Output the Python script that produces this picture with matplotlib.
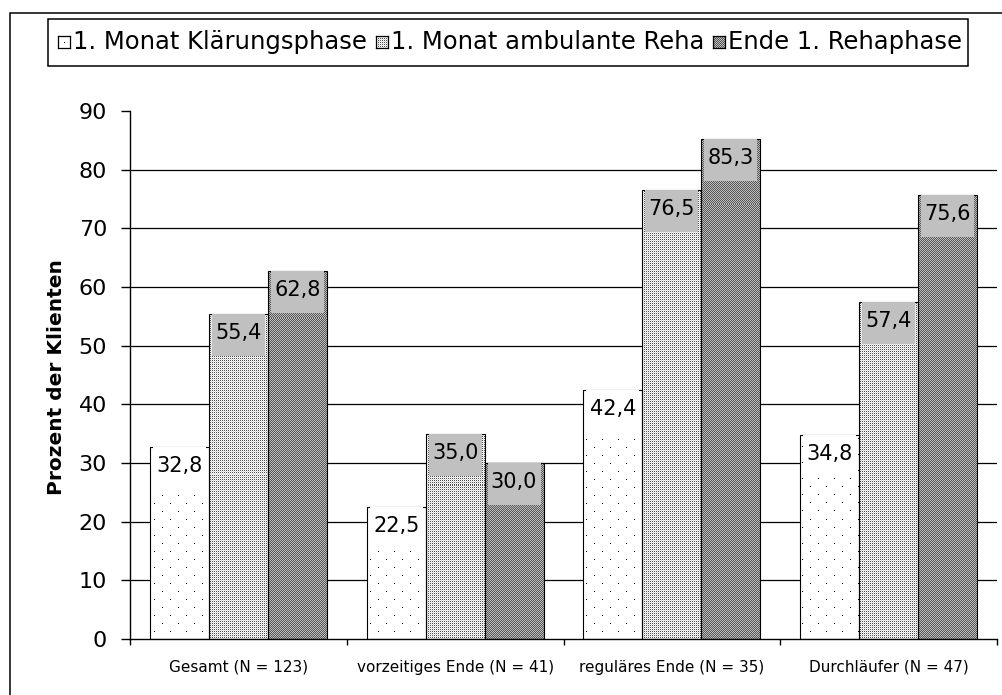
import numpy as np
import matplotlib.pyplot as plt
from matplotlib.patches import Rectangle

kategorien = ['Gesamt (N = 123)', 'vorzeitiges Ende (N = 41)',
              'reguläres Ende (N = 35)', 'Durchläufer (N = 47)']
serien = ['1. Monat Klärungsphase', '1. Monat ambulante Reha', 'Ende 1. Rehaphase']
klaerung = [32.8, 22.5, 42.4, 34.8]
ambulant = [55.4, 35.0, 76.5, 57.4]
ende = [62.8, 30.0, 85.3, 75.6]
yticks = np.arange(0, 100, 10)

W, H = 1002, 695
fig = plt.figure(figsize=(W / 100, H / 100), dpi=100)
# Achse auf ganze Pixel legen, damit die Rastermuster nicht verschmieren
AX_L, AX_B, AX_W, AX_H = 130, 56, 867, 528
ax = fig.add_axes([AX_L / W, AX_B / H, AX_W / W, AX_H / H])


def muster(art, h, w):
    yy, xx = np.mgrid[0:h, 0:w]
    img = np.ones((h, w))
    if art == 0:
        punkt = ((yy % 16 == 0) & (xx % 16 == 0)) | ((yy % 16 == 8) & (xx % 16 == 8))
        img[punkt] = 0.0
    elif art == 1:
        img[(yy % 2 == 0) & (xx % 2 == 0)] = 0.3
        img[(yy % 2 == 1) & (xx % 2 == 1)] = 0.85
    else:
        img[:] = np.where((xx + yy) % 2 == 0, 0.33, 0.75)
    return img


x = np.arange(len(kategorien))
breite = 59 / 217
werte_alle = [klaerung, ambulant, ende]
boxfarbe = ['white', '#c0c0c0', '#c0c0c0']
px_y = 90 / AX_H
px_x = 4 / AX_W
box_h = 42 * px_y
einzug = 3 * px_x
texturen = [muster(i, AX_H, AX_W) for i in range(3)]

ax.hlines(yticks[1:-1], -0.5, 3.5, colors='black', lw=0.9, zorder=1)

for i, werte in enumerate(werte_alle):
    pos = x + (i - 1) * breite
    balken = ax.bar(pos, werte, breite, facecolor='none', edgecolor='black',
                    lw=0.8, zorder=3)
    for b, v in zip(balken, werte):
        im = ax.imshow(texturen[i], extent=(-0.5, 3.5, 0, 90), aspect='auto',
                       cmap='gray', vmin=0, vmax=1, interpolation='nearest', zorder=2)
        im.set_clip_path(b)
        ax.add_patch(Rectangle((b.get_x() + einzug, v - box_h), breite - 2 * einzug,
                               box_h, facecolor=boxfarbe[i], edgecolor='none', zorder=4))
        ax.text(b.get_x() + breite / 2, v - 19 * px_y, f'{v:.1f}'.replace('.', ','),
                ha='center', va='center', fontsize=15, zorder=5)

ax.set_xlim(-0.5, 3.5)
ax.set_ylim(0, 90)
for s in ['top', 'right']:
    ax.spines[s].set_visible(False)
for s in ['left', 'bottom']:
    ax.spines[s].set_linewidth(1.0)

ax.set_yticks(yticks)
ax.tick_params(axis='y', direction='out', length=6.5, width=1, pad=10, labelsize=16)
ax.set_xticks(x)
ax.set_xticklabels(kategorien)
ax.set_xticks(np.arange(-0.5, 4, 1), minor=True)
ax.tick_params(axis='x', which='major', length=0, pad=15, labelsize=11)
ax.tick_params(axis='x', which='minor', direction='out', length=4.5, width=1)

fig.text(57 / W, 1 - 377 / H, 'Prozent der Klienten', rotation=90,
         ha='center', va='center', fontsize=14.5, fontweight='bold')

# Rahmen um die ganze Grafik
fig.add_artist(Rectangle((10 / W, -0.05), 1.0, 1 - 13 / H + 0.05, fill=False,
                         ec='black', lw=1.1, transform=fig.transFigure))

# Legende von Hand
fig.add_artist(Rectangle((48 / W, 1 - 66 / H), 920 / W, 47 / H, facecolor='white',
                         ec='black', lw=1.1, transform=fig.transFigure))
renderer = fig.canvas.get_renderer()
mx = 58
for i, name in enumerate(serien):
    max_ = fig.add_axes([mx / W, (H - 48) / H, 12 / W, 12 / H], zorder=5)
    max_.imshow(muster(i, 20, 20)[2:14, 2:14], cmap='gray', vmin=0, vmax=1,
                interpolation='nearest', aspect='auto')
    max_.set_xticks([])
    max_.set_yticks([])
    for sp in max_.spines.values():
        sp.set_linewidth(0.9)
    t = fig.text((mx + 15) / W, 1 - 42 / H, name, ha='left', va='center',
                 fontsize=17.5, zorder=5)
    mx = t.get_window_extent(renderer).x1 + 9

fig.savefig('out.png', dpi=100)
